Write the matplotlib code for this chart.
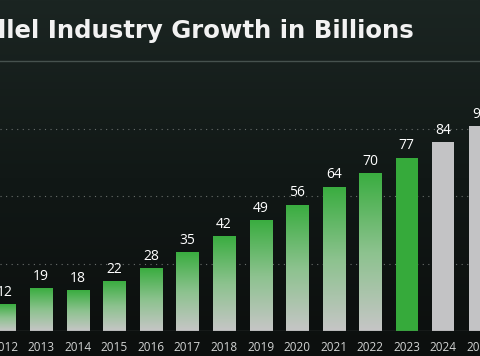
import numpy as np
import matplotlib
matplotlib.use("Agg")
import matplotlib.pyplot as plt
from matplotlib.colors import LinearSegmentedColormap

# Data
years = ["2012", "2013", "2014", "2015", "2016", "2017", "2018",
         "2019", "2020", "2021", "2022", "2023", "2024", "2025"]
values = [12, 19, 18, 22, 28, 35, 42, 49, 56, 64, 70, 77, 84, 91]
# bar styles: gradient (past), solid green (current), gray (forecast)
styles = ["grad"] * 11 + ["green"] + ["gray"] * 2

title = "llel Industry Growth in Billions"

W, H = 480, 356
fig = plt.figure(figsize=(W / 100, H / 100), dpi=100)

# background gradient
bg = fig.add_axes([0, 0, 1, 1], zorder=0)
bg_cmap = LinearSegmentedColormap.from_list("bg", ["#0c0f0e", "#111816", "#1b2522"])
bg.imshow(np.linspace(0, 1, 256).reshape(-1, 1), cmap=bg_cmap, aspect="auto",
          extent=[0, 1, 0, 1], origin="lower")
bg.set_xlim(0, 1)
bg.set_ylim(0, 1)
bg.axis("off")

# thin separator line under the title
bg.plot([0, 1], [1 - 61 / H, 1 - 61 / H], color="#46524e", lw=1.0)

# main axes: baseline at y=331 px, top at y=61 px
base_px, top_px = 331, 61
ax = fig.add_axes([0, 1 - base_px / H, 1, (base_px - top_px) / H], zorder=1)
ax.patch.set_alpha(0)

x = np.arange(len(years))
bar_w = 0.605
bars = ax.bar(x, values, width=bar_w, color="none", zorder=3)

grad_cmap = LinearSegmentedColormap.from_list("g", ["#c6c6c6", "#8cc28e", "#3aad40"])
for b, style in zip(bars, styles):
    x0, w, h = b.get_x(), b.get_width(), b.get_height()
    if style == "grad":
        ax.imshow(np.linspace(0, 1, 256).reshape(-1, 1), cmap=grad_cmap,
                  aspect="auto", origin="lower", extent=[x0, x0 + w, 0, h],
                  zorder=3)
    elif style == "green":
        b.set_facecolor("#36aa3b")
    else:
        b.set_facecolor("#c3c3c5")

for xi, v in zip(x, values):
    ax.text(xi, v + 2.0, str(v), ha="center", va="bottom", color="white",
            fontsize=10, family="Open Sans", zorder=4)

ax.set_xlim(-0.1275, 12.895)
ax.set_ylim(0, 120)

# dotted gridlines
for gy in [30, 60, 90]:
    ax.axhline(gy, color="#6a6f6d", lw=0.8, ls=(0, (1, 4)), zorder=1)
ax.axhline(0, color="#5c625f", lw=0.9, zorder=4)

for s in ax.spines.values():
    s.set_visible(False)
ax.set_yticks([])
ax.set_xticks(x)
ax.set_xticklabels(years, color="#d2d4d3", fontsize=8.5, family="Open Sans")
ax.tick_params(axis="x", length=0, pad=7)

t = fig.text(-2 / W, 1 - 38 / H, title, ha="left", va="baseline", color="#f2f2f2",
             fontsize=18, fontweight="bold", family="DejaVu Sans")
# fit title width to the reference (ends near x=416 px)
fig.canvas.draw()
bb = t.get_window_extent()
t.set_fontsize(18 * 418 / bb.width)

fig.savefig("out.png", dpi=100)
